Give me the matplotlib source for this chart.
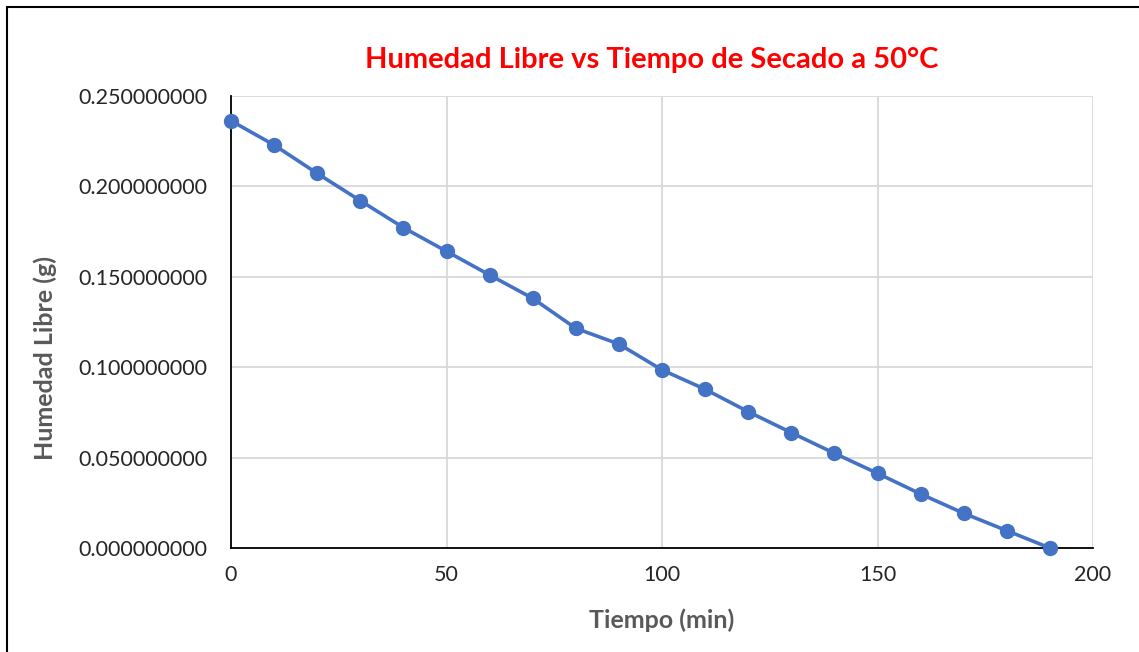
import matplotlib.pyplot as plt
from matplotlib.ticker import FormatStrFormatter
from matplotlib.patches import Rectangle

tiempo = [0, 10, 20, 30, 40, 50, 60, 70, 80, 90, 100,
          110, 120, 130, 140, 150, 160, 170, 180, 190]
humedad = [0.2363, 0.2229, 0.2072, 0.1921, 0.1772, 0.1641, 0.1510, 0.1381,
           0.1215, 0.1128, 0.0985, 0.0878, 0.0754, 0.0638, 0.0524, 0.0413,
           0.0299, 0.0192, 0.0096, 0.0]

plt.rcParams['font.family'] = ['Lato', 'DejaVu Sans']

fig = plt.figure(figsize=(11.39, 6.52), dpi=100)
ax = fig.add_axes([231 / 1139, 1 - 548 / 652, (1093 - 231) / 1139, (548 - 96) / 652])

ax.plot(tiempo, humedad, color='#4472C4', lw=2.6, marker='o', ms=10,
        clip_on=False, zorder=3)

ax.set_xlim(0, 200)
ax.set_ylim(0, 0.25)
ax.set_xticks([0, 50, 100, 150, 200])
ax.set_yticks([0, 0.05, 0.10, 0.15, 0.20, 0.25])
ax.yaxis.set_major_formatter(FormatStrFormatter('%.9f'))
ax.grid(True, color='#D9D9D9', lw=1.3)
ax.set_axisbelow(True)
for s in ['top', 'right']:
    ax.spines[s].set_visible(False)
for s in ['left', 'bottom']:
    ax.spines[s].set_color('black')
    ax.spines[s].set_linewidth(1.3)
    ax.spines[s].set_zorder(2.5)
ax.tick_params(length=0, labelsize=15.5, colors='#262626', pad=12)
ax.tick_params(axis='y', pad=17)

fig.text(652 / 1139, 1 - 60 / 652, 'Humedad Libre vs Tiempo de Secado a 50°C',
         color='#FF0000', fontsize=21, fontweight='bold', ha='center', va='center')
fig.text(662 / 1139, 1 - 620 / 652, 'Tiempo (min)', color='#595959',
         fontsize=18, fontweight='bold', ha='center', va='center')
fig.text(45 / 1139, 1 - 358 / 652, 'Humedad Libre (g)', color='#595959',
         fontsize=18, fontweight='bold', ha='center', va='center', rotation=90)

fig.patches.append(Rectangle((6.5 / 1139, -0.1), 1.2, 1 - 7 / 652 + 0.1,
                             transform=fig.transFigure, fill=False,
                             edgecolor='black', lw=1.5))

fig.savefig('out.png', dpi=100)
